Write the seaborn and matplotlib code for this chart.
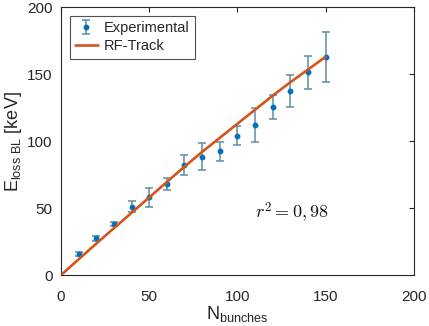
import matplotlib
matplotlib.use("Agg")
import matplotlib.pyplot as plt
import seaborn as sns
import pandas as pd

# ----- data -----
n_bunches = [10, 20, 30, 40, 50, 60, 70, 80, 90, 100, 110, 120, 130, 140, 150]
e_loss_exp = [15.5, 27.5, 38, 51, 58, 68, 82.5, 88.5, 92.5, 104, 112, 125.5, 137.5, 151.5, 163]
e_loss_err = [1.5, 2, 1.5, 4, 7, 4.5, 7.5, 10, 7, 7.2, 13, 9, 11.8, 12.2, 18.8]

n_sim = [0, 10, 20, 30, 40, 50, 60, 70, 80, 90, 100, 110, 120, 130, 140, 150]
e_loss_sim = [0, 11.8, 23.5, 35, 46.5, 58, 69.5, 81, 92, 102.5, 113, 123.5, 134, 144, 153.5, 163]

sim = pd.DataFrame({"N": n_sim, "E": e_loss_sim})

sns.set_style("white")
plt.rcParams["font.family"] = ["Liberation Sans", "DejaVu Sans"]
plt.rcParams["mathtext.fontset"] = "custom"
plt.rcParams["mathtext.rm"] = "Liberation Sans"
plt.rcParams["mathtext.it"] = "Liberation Sans:italic"

fig = plt.figure(figsize=(4.29, 3.26), dpi=100)
ax = fig.add_axes([0.142, 0.156, 0.823, 0.822])

# experimental points with error bars
ax.errorbar(n_bunches, e_loss_exp, yerr=e_loss_err, fmt="o", ms=3.2,
            color="#0072BD", ecolor="#5b8ea3", elinewidth=1.1,
            capsize=2.8, capthick=1.1, label="Experimental", zorder=2)

# simulation line
sns.lineplot(data=sim, x="N", y="E", color="#D4541C", lw=1.9,
             label="RF-Track", ax=ax, zorder=3)

ax.text(110, 47, r"$r^2 = 0,98$", fontsize=13, ha="left", va="center",
        math_fontfamily="cm", color="#111111")

ax.set_xlim(0, 200)
ax.set_ylim(0, 200)
ax.set_xticks([0, 50, 100, 150, 200])
ax.set_yticks([0, 50, 100, 150, 200])
ax.tick_params(direction="in", length=3.5, width=0.8, top=True, right=True,
               labelsize=11, colors="#262626", pad=6)
ax.tick_params(axis="x", pad=11)
for s in ax.spines.values():
    s.set_color("#262626")
    s.set_linewidth(0.8)

ax.set_xlabel(r"N$_{\mathregular{bunches}}$", fontsize=13, color="#262626", labelpad=0)
ax.set_ylabel(r"E$_{\mathregular{loss\ BL}}$ [keV]", fontsize=13, color="#262626", labelpad=2)

handles, labels = ax.get_legend_handles_labels()
order = [labels.index("Experimental"), labels.index("RF-Track")]
leg = ax.legend([handles[i] for i in order], [labels[i] for i in order],
                loc="upper left", fontsize=10.5, frameon=True, fancybox=False,
                edgecolor="#262626", borderpad=0.35, handlelength=1.6,
                handletextpad=0.4, labelspacing=0.3, borderaxespad=0.6)
leg.get_frame().set_linewidth(0.8)

fig.savefig("out.png", dpi=100)
